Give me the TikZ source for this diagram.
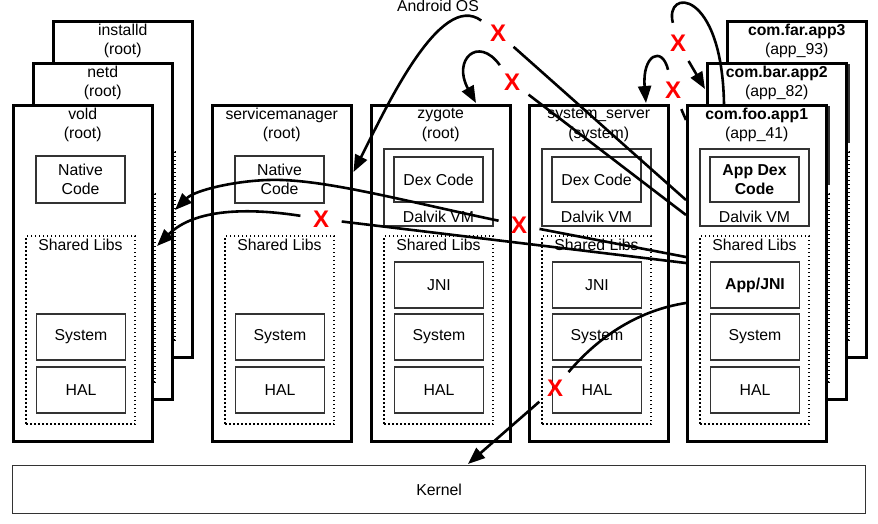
\documentclass[tikz,border=0pt]{standalone}
\usepackage{fontspec}
\setmainfont{Liberation Sans}
\usetikzlibrary{arrows.meta,calc}
\tikzset{
  base/.style={font=\fontsize{15.8}{19.5}\selectfont},
  procbox/.style={draw, line width=2.5pt, fill=white, minimum width=139pt, minimum height=336pt, inner sep=0pt, anchor=north west},
  inbox/.style={draw=black!80, line width=1.3pt, fill=white, minimum width=89pt, minimum height=46pt, align=center, inner sep=0pt, base},
  vmbox/.style={draw=black!80, line width=1.3pt, fill=white, minimum width=109pt, minimum height=77pt, inner sep=0pt},
  libbox/.style={draw, line width=1.1pt, dash pattern=on 1.5pt off 2.5pt, minimum width=109pt, minimum height=188pt, inner sep=0pt},
  lbl/.style={align=center, inner sep=0pt, base},
  xmark/.style={circle, inner sep=6.5pt, text=red, font=\bfseries\fontsize{24}{24}\selectfont},
  conn/.style={line width=2.6pt},
  arr/.style={conn, -{Triangle[length=17pt,width=13pt]}},
}
% a process box that is mostly hidden behind another one
\newcommand\backnat[4]{%
  \node[procbox] (#1) at (#2,#3) {};
  \node[lbl] (#1-t) at ($(#1.north)+(0,21)$) {#4};
  \node[libbox] (#1-l) at ($(#1.north west)+(68.5,226)$) {};
}
\newcommand\backapp[4]{%
  \node[procbox] (#1) at (#2,#3) {};
  \node[lbl] (#1-t) at ($(#1.north)+(0,21)$) {#4};
  \node[vmbox] (#1-vm) at ($(#1.north west)+(68.5,83.5)$) {};
  \node[libbox] (#1-l) at ($(#1.north west)+(68.5,226)$) {};
}
\newcommand\natproc[4]{%
  \node[procbox] (#1) at (#2,#3) {};
  \node[lbl] (#1-t) at ($(#1.north)+(0,21)$) {#4};
  \node[libbox] (#1-l) at ($(#1.north west)+(68.5,226)$) {};
  \node[lbl] (#1-lt) at ($(#1.north west)+(68.5,141)$) {Shared Libs};
  \node[inbox, minimum height=47pt] (#1-n) at ($(#1.north west)+(68.5,75.5)$) {Native\\Code};
  \node[inbox] (#1-s) at ($(#1.north west)+(69,233)$) {System};
  \node[inbox] (#1-h) at ($(#1.north west)+(69,286)$) {HAL};
}
\newcommand\javaproc[6]{%
  \node[procbox] (#1) at (#2,#3) {};
  \node[lbl] (#1-t) at ($(#1.north)+(0,21)$) {#4};
  \node[vmbox] (#1-vm) at ($(#1.north west)+(68.5,83.5)$) {};
  \node[lbl] (#1-vt) at ($(#1.north west)+(68.5,113)$) {Dalvik VM};
  \node[inbox, minimum height=45pt] (#1-d) at ($(#1.north west)+(68.5,75.5)$) {#5};
  \node[libbox] (#1-l) at ($(#1.north west)+(68.5,226)$) {};
  \node[lbl] (#1-lt) at ($(#1.north west)+(68.5,141)$) {Shared Libs};
  \node[inbox] (#1-j) at ($(#1.north west)+(69,181)$) {#6};
  \node[inbox] (#1-s) at ($(#1.north west)+(69,233)$) {System};
  \node[inbox] (#1-h) at ($(#1.north west)+(69,286)$) {HAL};
}
\begin{document}
\begin{tikzpicture}[x=1pt,y=-1pt]
\useasboundingbox (0,0) rectangle (878,523);
\node[lbl] (aos) at (438,6) {Android OS};
% native processes
\backnat{installd}{52}{20}{installd\\(root)}
\backnat{netd}{32}{62}{netd\\(root)}
\natproc{vold}{12}{104}{vold\\(root)}
\natproc{sm}{211}{104}{servicemanager\\(root)}
% java processes
\javaproc{zyg}{370}{104}{zygote\\(root)}{Dex Code}{JNI}
\javaproc{ss}{528}{104}{system\_server\\(system)}{Dex Code}{JNI}
\backapp{app3}{726}{20}{\textbf{com.far.app3}\\(app\_93)}
\backapp{app2}{706}{62}{\textbf{com.bar.app2}\\(app\_82)}
\javaproc{app1}{686}{104}{\textbf{com.foo.app1}\\(app\_41)}{\textbf{App Dex}\\\textbf{Code}}{\textbf{App/JNI}}
% kernel
\node[draw=black!80, line width=1.3pt, minimum width=853pt, minimum height=48pt, anchor=north west, base] (kernel) at (12,465) {Kernel};
% X marks
\node[xmark] (x1) at (498,33) {X};
\node[xmark] (x2) at (512,82) {X};
\node[xmark] (x3) at (678,43) {X};
\node[xmark] (x4) at (673,90) {X};
\node[xmark] (x5) at (321,219) {X};
\node[xmark] (x6) at (519,225) {X};
\node[xmark] (x7) at (555,388) {X};
% connector ends
\coordinate (c1) at ($(app1.north west)+(0,96)$);
\coordinate (c2) at ($(app1.north west)+(0,111)$);
\coordinate (c3) at ($(app1.north west)+(38,0)$);
\coordinate (c4) at ($(app1.north west)+(0,16)$);
\coordinate (c5) at ($(app1.north west)+(0,153)$);
\coordinate (c6) at ($(app1.north west)+(0,159)$);
\coordinate (c7) at ($(app1.north west)+(0,199)$);
\coordinate (t1) at ($(sm.north east)+(1,68)$);
\coordinate (t2) at ($(zyg.north west)+(106,-1)$);
\coordinate (t3) at ($(app2.north west)+(-1,27)$);
\coordinate (t4) at ($(ss.north west)+(118,-1)$);
\coordinate (t5) at ($(installd.north west)+(123,190)$);
\coordinate (t6) at ($(netd.north west)+(125,184)$);
\coordinate (t7) at ($(kernel.north west)+(456,-1)$);
% connectors
\draw[conn] (c1) -- (x1);
\draw[arr] (x1) .. controls (440,-10) and (385,110) .. (t1);
\draw[conn] (c2) -- (x2);
\draw[arr] (x2) .. controls (478,35) and (452,60) .. (t2);
\draw[conn] (c3) .. controls (722,-12) and (664,-12) .. (x3);
\draw[arr] (x3) -- (t3);
\draw[conn] (c4) -- (x4);
\draw[arr] (x4) .. controls (662,45) and (642,55) .. (t4);
\draw[conn] (c5) -- (x6);
\draw[arr] (x6) .. controls (400,200) and (320,178) .. (268,180) .. controls (235,181) and (195,190) .. (t5);
\draw[conn] (c6) -- (x5);
\draw[arr] (x5) .. controls (250,208) and (195,208) .. (t6);
\draw[conn] (c7) .. controls (640,310) and (600,335) .. (x7);
\draw[arr] (x7) -- (t7);
\end{tikzpicture}
\end{document}
